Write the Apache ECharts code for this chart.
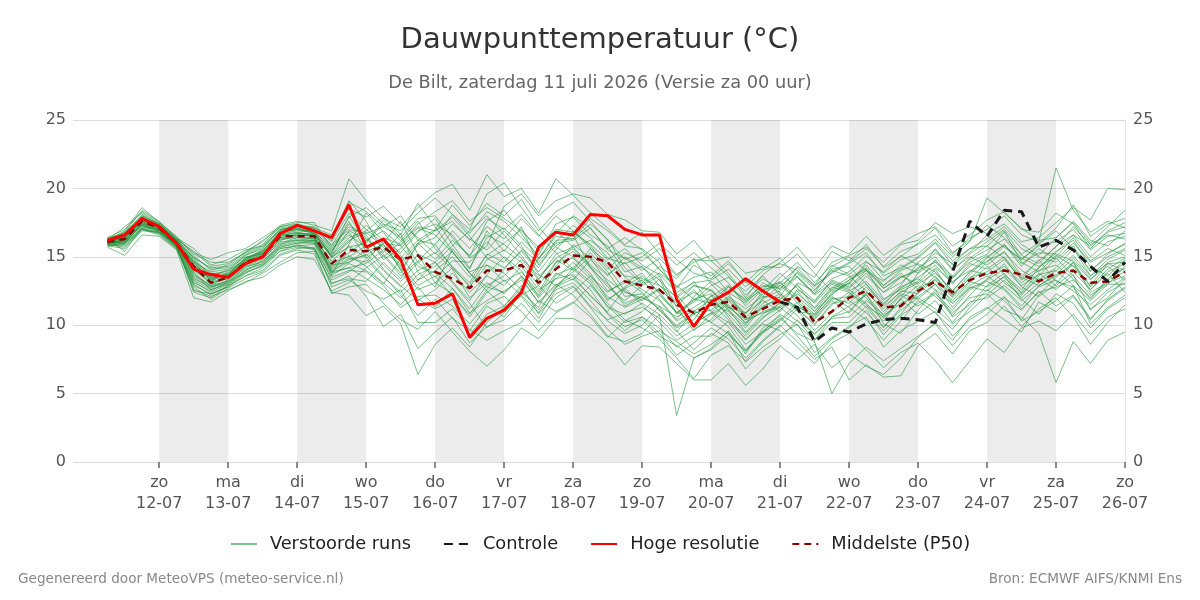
<!DOCTYPE html>
<html>
<head>
<meta charset="utf-8">
<title>Dauwpunttemperatuur</title>
<script src="https://cdn.jsdelivr.net/npm/echarts@6.0.0/dist/echarts.min.js"></script>
<style>
  html, body { margin: 0; padding: 0; background: #ffffff; }
  #chart { width: 1200px; height: 600px; }
</style>
</head>
<body>
<div id="chart"></div>
<script>
// as-labels (dag 00 uur), 12-07 t/m 26-07
const dagNamen = ['zo', 'ma', 'di', 'wo', 'do', 'vr', 'za', 'zo', 'ma', 'di', 'wo', 'do', 'vr', 'za', 'zo']
const datums = ['12-07', '13-07', '14-07', '15-07', '16-07', '17-07', '18-07', '19-07', '20-07', '21-07', '22-07', '23-07', '24-07', '25-07', '26-07']
// grijze banden: van datums[k] tot datums[k+1]
const grijzeDagen = [0, 2, 4, 6, 8, 10, 12]

// waarden elke 6 uur vanaf za 11-07 06 uur (60 tijdstappen)
// opbouw per rij: 3 waarden 11-07, dan 4 per dag 12-07..25-07, dan 26-07 00 uur
const middelste = [16.1, 16.3, 17.6,
  17.1, 16.0, 14.3, 13.1,  13.5, 14.6, 15.0, 16.5,  16.5, 16.5, 14.5, 15.5,  15.4, 15.7, 14.8, 15.1,
  13.9, 13.4, 12.7, 14.0,  14.0, 14.4, 13.1, 14.1,  15.1, 15.0, 14.6, 13.2,  12.9, 12.6, 11.5, 10.9,
  11.5, 11.7, 10.6, 11.2,  11.8, 12.0, 10.2, 11.0,  12.0, 12.5, 11.3, 11.4,  12.5, 13.2, 12.4, 13.3,
  13.8, 14.0, 13.7, 13.2,  13.8, 14.0, 13.1, 13.2,  13.9]

// hoge resolutie loopt tot 21-07 00 uur
const hogeResolutie = [16.2, 16.6, 17.8,
  17.2, 16.0, 14.1, 13.7,  13.5, 14.5, 15.0, 16.7,  17.3, 16.9, 16.4, 18.8,  15.7, 16.3, 14.8, 11.5,
  11.6, 12.3, 9.1, 10.5,  11.1, 12.4, 15.7, 16.8,  16.6, 18.1, 18.0, 17.0,  16.6, 16.6, 11.9, 9.9,
  11.7, 12.4, 13.4, 12.5,  11.7]

// controle pas zichtbaar vanaf 21-07 00 uur
const controle = [null, null, null,
  null, null, null, null,  null, null, null, null,  null, null, null, null,  null, null, null, null,
  null, null, null, null,  null, null, null, null,  null, null, null, null,  null, null, null, null,
  null, null, null, null,  11.7, 11.3, 8.8, 9.8,  9.5, 10.1, 10.4, 10.5,  10.4, 10.2, 13.9, 17.6,
  16.5, 18.4, 18.3, 15.7,  16.2, 15.5, 14.3, 13.2,  14.6]

const verstoordeRuns = [
  [16.0,16.5,18.0, 17.4,16.3,14.9,13.6, 14.0,15.1,15.6,17.0, 17.2,17.0,15.8,17.9, 18.6,17.4,16.9,18.2, 19.3,18.1,17.0,19.6, 20.4,18.6,16.9,18.3, 19.0,17.6,16.2,14.8, 15.3,14.1,12.8,13.5, 13.9,12.4,11.6,12.8, 13.1,14.2,12.9,13.8, 14.5,15.3,13.6,14.2, 15.0,16.1,14.7,15.6, 16.3,17.2,15.9,15.1, 16.4,17.6,16.2,15.8, 16.9],
  [16.3,15.4,17.2, 16.9,15.8,12.4,12.0, 12.9,13.6,14.2,15.4, 15.9,15.6,13.0,13.6, 12.1,9.9,10.8,8.3, 9.5,10.6,8.7,9.9, 10.4,11.6,10.2,12.0, 12.8,11.3,9.7,8.6, 9.2,9.6,8.8,7.9, 8.6,9.5,7.3,8.4, 9.3,10.1,8.0,9.1, 9.9,10.6,8.4,9.6, 10.3,11.0,9.2,10.4, 11.2,12.1,10.3,11.0, 11.8,12.9,10.1,11.3, 12.2],
  [16.1,16.8,18.4, 17.6,16.4,15.6,14.4, 14.8,15.5,15.8,16.9, 17.4,16.9,16.4,19.1, 17.6,15.3,16.7,13.9, 12.8,15.6,14.1,16.9, 15.4,17.2,14.4,15.8, 16.6,14.2,13.0,11.6, 12.1,13.4,10.8,11.7, 12.6,11.2,9.5,10.8, 11.6,13.0,11.2,12.7, 13.5,14.1,11.9,12.6, 13.2,14.8,13.1,14.3, 15.1,13.7,12.6,14.2, 15.4,16.2,14.3,13.6, 14.8],
  [15.8,16.0,17.4, 16.8,15.9,13.8,12.6, 13.1,14.3,14.8,16.1, 16.2,16.1,14.1,14.9, 14.6,16.2,15.3,16.8, 17.8,15.9,14.2,16.4, 17.1,15.8,13.7,12.9, 13.6,12.1,11.0,12.7, 11.5,10.2,8.9,9.7, 10.4,11.9,10.8,12.5, 13.2,11.6,10.4,11.8, 10.9,12.3,10.1,9.4, 11.1,12.6,10.7,12.2, 13.4,14.5,12.8,12.1, 13.0,14.6,12.4,13.1, 13.6],
  [16.2,16.9,18.6, 17.5,16.5,15.1,14.0, 14.4,15.4,16.1,17.3, 17.6,17.3,16.9,20.7, 19.1,17.8,17.2,18.6, 19.7,20.3,18.4,21.0, 19.4,20.0,18.2,20.7, 19.5,18.2,17.1,15.9, 16.8,15.2,13.7,14.6, 15.1,13.8,12.2,13.4, 12.6,14.3,13.5,15.4, 14.7,15.9,14.2,15.0, 16.0,17.1,15.3,16.2, 17.3,16.4,15.2,16.0, 17.1,18.8,16.5,17.4, 17.8],
  [16.0,16.2,17.5, 17.0,15.7,12.8,11.9, 12.7,13.4,13.9,15.1, 15.5,15.2,12.4,12.2, 10.7,11.4,10.1,6.4, 8.6,9.8,8.4,10.2, 11.3,12.1,10.5,12.6, 13.1,11.8,10.3,9.4, 10.0,11.4,9.6,8.2, 9.4,8.7,6.8,8.1, 9.0,10.4,8.9,10.6, 11.4,12.2,10.7,11.6, 12.1,13.0,11.3,12.8, 12.5,13.6,11.9,10.8, 12.3,11.6,9.8,11.2, 12.0],
  [16.4,16.6,17.9, 17.2,16.1,14.4,13.3, 13.8,14.9,15.4,16.6, 16.9,16.8,14.9,16.1, 17.3,16.2,14.0,15.9, 16.4,18.1,16.7,18.3, 17.6,16.4,15.1,17.4, 17.9,16.6,15.8,13.9, 14.3,12.9,12.1,13.2, 11.4,12.8,11.7,13.1, 12.4,11.1,9.6,10.9, 12.2,13.6,12.4,13.1, 14.2,15.0,13.5,14.6, 15.2,16.8,14.6,13.9, 15.1,14.3,12.6,13.9, 14.5],
  [15.9,15.8,17.0, 16.6,15.6,13.2,12.4, 13.0,14.0,14.7,15.7, 16.0,16.2,13.8,14.2, 13.4,12.6,11.5,12.8, 11.3,12.7,10.9,11.8, 12.5,13.3,11.7,13.0, 12.2,10.8,9.2,8.8, 9.4,10.8,3.4,7.6, 8.3,9.6,7.9,9.8, 10.7,9.2,7.7,9.0, 9.8,11.1,9.3,10.7, 11.6,12.4,10.6,11.5, 12.9,13.8,12.3,13.4, 12.6,13.7,11.1,12.4, 13.1],
  [16.1,16.3,17.7, 17.3,16.2,14.6,13.9, 14.1,15.0,15.2,16.3, 16.7,16.6,15.2,18.0, 16.1,17.4,16.2,17.6, 15.6,14.3,13.1,15.2, 14.6,16.1,14.8,16.7, 18.0,17.1,15.6,16.4, 15.5,14.1,12.7,14.4, 13.6,14.7,13.1,14.3, 14.2,15.2,13.8,12.5, 13.1,14.4,12.9,13.8, 12.6,14.1,12.2,13.7, 14.9,15.9,14.3,15.6, 14.8,16.0,14.6,15.3, 15.9],
  [16.2,17.2,18.2, 17.4,16.3,15.3,14.8, 15.3,15.6,16.4,17.2, 17.5,17.5,15.6,16.8, 15.0,13.6,12.2,10.7, 11.9,10.5,9.6,11.4, 10.6,12.4,11.3,13.7, 14.2,15.3,13.9,12.1, 12.3,11.1,9.8,10.4, 12.2,10.6,8.9,10.2, 11.1,12.6,11.7,13.3, 12.8,14.0,13.2,14.4, 13.8,15.6,14.1,15.0, 14.4,15.4,13.6,14.7, 15.7,17.2,15.9,16.6, 16.3],
  [15.7,15.1,16.6, 16.5,15.5,12.0,11.7, 12.5,13.2,13.5,14.4, 15.0,14.8,12.5,13.1, 14.2,15.1,13.6,14.7, 15.9,14.2,12.9,14.8, 15.5,14.6,12.9,11.6, 12.4,13.6,12.1,11.3, 11.9,12.7,11.4,12.6, 11.0,10.2,8.6,9.5, 10.3,11.4,10.6,12.1, 11.3,10.4,8.9,10.3, 11.8,10.9,9.7,11.3, 12.6,11.8,10.4,12.2, 13.5,14.6,12.8,14.1, 14.9],
  [16.3,16.7,18.1, 17.3,16.2,14.8,13.4, 13.7,14.8,15.5,16.7, 17.1,16.8,15.7,17.2, 16.6,14.8,15.6,16.9, 17.4,16.6,14.9,15.8, 18.7,19.6,18.0,19.1, 19.6,19.3,18.1,17.7, 16.9,16.8,15.2,16.2, 14.7,13.6,12.0,13.7, 14.6,15.7,14.2,15.8, 15.2,16.5,15.1,16.0, 16.7,17.2,15.8,16.6, 17.7,18.3,17.0,16.8, 18.2,17.4,15.6,16.9, 17.5],
  [16.0,16.1,17.3, 17.0,15.9,13.5,12.7, 13.3,14.4,14.9,16.0, 16.4,16.4,14.6,15.0, 15.8,14.1,12.9,11.8, 12.6,13.8,12.4,13.6, 12.9,14.3,12.6,13.4, 13.7,12.6,10.8,9.6, 10.6,9.4,7.8,8.7, 9.8,9.0,7.6,8.9, 10.0,8.8,7.5,8.4, 6.0,7.1,6.2,6.3, 8.5,9.4,7.9,9.6, 10.2,11.4,9.9,11.2, 12.0,10.6,8.6,10.2, 11.5],
  [16.2,16.4,17.8, 17.1,16.0,14.1,13.0, 13.6,14.7,15.2,16.4, 16.6,16.5,13.9,14.8, 15.1,16.0,15.8,14.3, 13.8,12.7,11.2,12.9, 13.6,14.8,13.3,15.2, 15.7,14.4,13.3,12.4, 12.0,11.4,10.6,11.3, 12.1,12.9,11.8,12.6, 12.9,13.8,12.6,13.9, 14.6,15.6,14.3,15.4, 15.9,16.6,15.2,16.4, 17.0,18.0,16.6,16.1, 21.5,18.4,16.8,17.6, 17.1],
  [16.1,16.0,17.1, 16.8,15.8,13.0,12.2, 12.9,13.9,14.3,15.6, 15.8,15.9,13.3,13.9, 14.8,13.5,12.4,13.7, 14.3,15.4,13.8,12.5, 11.4,12.9,10.8,12.3, 12.9,11.4,10.4,10.9, 11.3,10.5,9.2,10.1, 10.9,9.9,8.2,9.6, 10.5,9.4,8.8,5.0, 7.2,8.4,7.4,8.3, 9.2,10.1,8.5,9.9, 10.8,12.0,11.1,12.5, 11.4,12.2,10.5,11.8, 12.7],
  [16.4,17.0,18.3, 17.5,16.4,15.2,14.6, 14.6,15.3,16.2,17.1, 17.3,17.1,16.6,18.5, 17.9,18.7,17.4,16.4, 15.2,16.9,15.6,17.2, 16.3,17.8,16.5,18.0, 16.9,15.6,14.1,15.3, 14.7,15.6,14.4,15.3, 14.2,13.1,11.4,12.6, 13.8,12.7,11.6,13.0, 12.5,13.2,11.8,12.9, 14.6,15.5,14.0,15.2, 16.1,17.0,15.6,15.0, 14.6,15.8,13.9,15.2, 16.0],
  [15.9,15.7,17.0, 16.7,15.7,12.6,12.1, 12.6,13.1,13.8,14.6, 15.3,15.4,12.3,12.8, 13.0,11.6,10.4,9.7, 11.0,9.5,8.1,7.0, 8.2,9.8,9.0,10.5, 10.5,9.8,8.7,7.1, 8.5,8.4,7.2,6.0, 6.0,7.2,5.6,6.8, 8.5,7.5,8.6,6.9, 7.9,7.0,6.4,7.6, 9.1,10.2,8.9,10.6, 11.3,10.4,9.5,11.7, 11.0,12.1,10.4,11.9, 12.8],
  [16.2,16.5,17.6, 17.2,16.1,14.0,13.2, 13.9,14.9,15.3,16.5, 16.8,16.6,14.3,15.3, 16.2,16.9,15.8,17.1, 16.6,15.3,13.9,14.4, 13.2,13.9,12.4,14.6, 15.4,14.2,12.5,13.1, 13.8,12.3,11.0,10.1, 10.9,12.0,10.9,11.8, 11.0,12.5,11.0,12.2, 13.3,14.2,12.7,13.6, 13.0,13.8,12.5,13.9, 14.7,15.3,14.0,13.3, 14.2,15.6,13.6,14.5, 14.0],
  [16.0,16.2,17.5, 17.0,16.0,14.2,13.1, 13.4,14.5,15.1,16.3, 16.4,16.3,14.7,15.8, 14.9,15.9,14.6,16.0, 14.8,16.2,15.1,16.6, 15.9,14.9,13.6,14.8, 14.0,15.6,14.6,13.6, 13.4,12.9,11.7,12.4, 11.8,12.8,11.9,12.9, 12.7,13.6,12.3,13.4, 13.9,15.1,13.8,14.8, 15.2,16.3,15.0,16.1, 19.3,18.2,17.1,16.2, 16.4,17.5,16.0,17.2, 18.4],
  [16.3,16.4,17.7, 17.2,16.1,14.3,13.5, 13.6,14.6,15.1,16.6, 16.7,16.7,15.0,16.2, 16.8,15.7,14.4,12.9, 13.6,12.1,10.8,12.6, 14.1,15.5,14.2,16.2, 16.3,17.4,16.3,14.2, 13.0,13.8,12.9,11.9, 12.3,11.1,10.0,11.6, 12.3,11.2,10.1,11.6, 11.8,10.9,9.6,10.8, 12.4,13.6,12.1,13.5, 13.9,14.8,13.4,14.8, 13.2,12.8,11.2,12.0, 13.4],
  [16.1,16.6,17.8, 17.2,16.0,14.0,13.6, 13.5,14.4,15.0,16.6, 17.0,16.8,15.3,17.6, 15.4,15.9,14.1,11.9, 11.2,11.9,9.3,10.8, 11.4,12.7,14.9,16.5, 16.3,17.8,16.9,15.8, 15.6,14.6,12.2,10.8, 11.6,11.0,9.8,11.4, 11.9,12.9,11.8,13.2, 12.7,13.8,12.4,13.5, 14.0,14.6,13.4,14.8, 15.5,16.3,14.9,14.3, 15.0,16.4,14.7,15.6, 15.1],
  [15.8,15.6,16.9, 16.8,15.7,13.1,12.5, 13.2,13.8,14.4,15.4, 15.7,15.6,13.5,14.0, 13.9,12.9,11.3,12.1, 12.2,11.4,10.1,11.6, 12.1,11.0,9.6,10.9, 11.6,12.9,11.4,10.2, 10.6,9.8,8.4,9.2, 9.2,10.3,9.0,10.1, 9.6,8.4,7.2,8.7, 9.4,8.2,6.9,8.0, 8.7,7.4,5.8,7.4, 9.0,8.0,9.8,10.3, 9.6,10.8,9.3,10.6, 11.2],
  [16.2,16.3,17.6, 17.1,16.1,14.5,13.7, 14.0,14.8,15.3,16.8, 17.0,16.9,15.5,16.6, 15.7,14.4,13.2,14.6, 15.3,14.1,12.0,13.1, 12.3,13.6,12.0,13.4, 14.6,13.4,11.8,12.8, 13.6,12.4,10.9,11.8, 12.9,13.5,12.5,13.6, 12.2,11.0,10.8,12.3, 13.1,12.0,10.5,11.9, 12.9,12.1,10.9,12.0, 12.3,11.1,10.6,9.4, 5.8,8.8,7.2,8.9, 9.5],
  [16.0,16.2,17.4, 17.0,15.9,13.7,12.9, 13.2,14.2,14.7,15.9, 16.3,16.2,14.0,14.6, 15.5,16.4,15.9,17.4, 18.3,19.1,17.6,18.6, 17.8,16.9,15.7,17.0, 16.8,15.9,14.8,15.6, 14.4,13.7,12.4,13.1, 13.3,14.1,12.8,14.0, 14.5,14.0,12.9,14.6, 15.1,15.7,14.6,15.9, 16.2,17.5,16.7,17.2, 16.7,17.4,16.1,16.4, 17.5,18.6,17.7,20.0, 19.9],
  [16.1,16.4,17.7, 17.3,16.2,14.7,13.8, 13.8,14.8,15.4,16.8, 17.1,16.7,15.4,17.4, 16.4,15.0,16.1,17.2, 16.9,17.6,16.2,17.8, 17.0,18.1,16.6,15.3, 14.1,13.0,11.6,10.4, 9.8,9.0,7.6,6.1, 7.8,8.5,7.4,8.8, 9.9,11.2,10.0,11.5, 12.4,11.5,9.9,11.1, 12.0,11.2,10.1,11.0, 12.2,13.3,12.0,13.1, 14.0,15.1,13.6,14.8, 15.5],
  [16.3,16.8,18.0, 17.4,16.3,14.9,14.2, 14.3,15.2,15.8,17.0, 17.2,17.2,16.1,18.2, 17.0,16.0,17.6,15.2, 14.6,13.2,11.8,13.7, 15.0,14.0,12.1,13.8, 13.3,14.8,13.6,15.0, 14.2,13.3,12.0,12.9, 12.5,11.4,10.2,11.0, 11.4,13.1,12.5,14.1, 14.3,13.0,11.6,12.7, 13.5,14.4,13.0,14.5, 14.1,15.0,13.5,12.9, 13.7,14.9,13.4,14.3, 13.3],
  [15.9,16.0,17.2, 16.9,15.8,13.4,12.8, 13.1,14.1,14.5,15.8, 16.1,16.0,13.6,14.5, 14.0,13.1,12.0,13.3, 14.0,15.0,13.5,15.1, 16.0,17.0,15.4,16.9, 15.7,16.2,15.3,13.5, 12.6,11.8,10.3,11.1, 10.2,11.3,10.4,10.9, 11.3,10.3,9.4,10.5, 10.6,11.8,10.8,12.2, 11.4,12.3,11.1,12.6, 13.2,12.6,11.2,12.4, 12.8,13.3,12.0,13.4, 14.2],
  [16.2,16.7,17.9, 17.3,16.2,15.0,14.1, 14.2,15.1,15.7,16.9, 17.3,17.0,16.2,19.0, 18.3,17.2,16.4,17.8, 18.0,16.4,15.0,17.6, 18.4,16.7,14.9,16.1, 17.3,16.4,14.9,14.5, 15.0,16.0,14.8,13.8, 13.4,14.5,13.2,12.1, 13.5,14.6,13.1,14.4, 13.7,14.7,13.3,14.1, 14.9,16.0,14.4,15.3, 16.6,15.7,14.8,15.8, 16.1,17.0,15.5,16.5, 16.7],
  [16.0,15.9,17.1, 16.7,15.6,12.9,12.3, 12.8,13.6,14.0,15.2, 15.6,15.7,12.8,13.3, 12.5,11.9,12.6,10.2, 10.2,11.2,9.7,8.9, 9.6,10.2,11.8,11.0, 11.7,10.6,9.1,10.3, 11.0,12.2,10.9,11.9, 11.6,10.4,9.2,10.5, 11.7,10.7,9.3,10.6, 11.0,12.4,11.2,12.5, 12.3,13.4,12.0,13.2, 12.8,13.5,12.4,13.8, 12.9,13.9,12.6,13.8, 12.4],
  [16.1,16.5,17.8, 17.2,16.0,14.6,13.3, 13.6,14.7,15.3,16.4, 16.6,16.5,15.0,15.7, 16.0,17.7,16.4,14.6, 13.5,14.7,14.6,16.1, 14.9,13.6,12.2,14.3, 15.9,14.9,13.1,11.4, 12.1,11.2,10.0,10.9, 11.1,12.1,11.2,12.1, 12.0,11.4,10.5,11.9, 12.1,13.0,11.4,12.4, 13.1,14.2,13.2,14.0, 13.7,14.3,13.1,14.0, 14.4,13.4,11.9,13.3, 13.9],
  [16.0,16.3,17.6, 17.1,16.1,14.6,13.2, 13.4,14.6,15.2,16.5, 16.8,16.4,13.7,15.9, 18.2,16.8,15.1,13.3, 14.6,15.8,16.9,18.0, 16.6,15.1,13.4,14.9, 15.6,14.3,12.8,11.8, 12.9,13.6,11.3,9.6, 10.8,11.5,10.1,11.9, 12.9,11.9,10.8,12.4, 13.0,14.6,13.9,15.1, 14.4,13.5,12.2,13.4, 14.6,15.8,14.8,15.9, 16.9,15.6,14.0,15.0, 15.6],
  [16.2,16.1,17.3, 16.9,15.9,13.6,12.9, 13.5,14.5,14.9,16.2, 16.5,16.3,14.2,15.1, 14.3,13.0,14.9,16.2, 17.0,18.8,17.3,18.9, 18.0,19.2,17.2,15.7, 15.0,13.8,11.9,12.7, 13.3,11.9,10.4,12.1, 13.2,12.3,10.5,12.0, 12.5,13.5,12.2,13.1, 12.6,11.6,10.3,12.0, 13.8,14.7,13.6,14.9, 15.8,14.9,13.3,14.2, 15.3,16.6,15.8,16.8, 17.2],
  [16.1,16.4,17.5, 17.1,16.0,14.4,13.5, 13.7,14.7,15.0,16.2, 16.6,16.6,15.1,16.4, 16.9,17.9,16.6,18.9, 17.2,15.4,13.8,12.8, 12.4,13.5,11.6,12.9, 13.9,15.0,13.7,14.6, 13.1,14.3,13.4,14.9, 13.0,11.8,10.4,11.3, 12.1,13.9,12.8,14.0, 13.6,12.5,11.0,12.3, 11.9,13.0,11.8,13.1, 14.3,13.1,12.2,13.6, 14.9,13.6,12.2,13.0, 14.3],
  [15.8,15.9,17.0, 16.8,15.8,12.5,12.3, 12.8,13.8,14.4,15.6, 15.8,15.5,13.1,13.4, 13.2,14.6,13.4,15.2, 13.1,12.3,10.6,12.4, 13.3,12.2,10.9,12.8, 13.4,12.2,10.9,9.9, 10.4,9.2,8.5,7.6, 8.2,9.3,8.1,9.5, 10.8,10.0,8.9,10.2, 10.2,11.4,10.6,11.9, 10.8,11.8,10.2,11.7, 12.0,12.9,11.8,12.8, 13.3,12.5,11.5,12.6, 13.5],
  [16.3,16.6,17.9, 17.3,16.3,15.4,14.3, 14.5,15.3,15.9,17.2, 17.4,17.1,15.9,17.0, 16.7,17.2,18.0,16.2, 15.9,17.4,16.3,15.5, 16.9,15.6,14.6,16.0, 16.2,17.1,15.5,14.9, 14.0,14.9,13.6,14.8, 14.7,15.0,13.8,14.1, 14.9,13.5,12.3,14.3, 15.0,14.0,12.7,13.5, 14.1,15.3,14.5,15.6, 15.8,16.9,15.1,14.5, 15.8,16.6,15.0,16.1, 16.5],
  [15.9,16.1,17.4, 17.0,15.9,13.9,12.8, 13.3,14.3,14.6,15.9, 16.2,16.2,14.4,14.6, 15.2,14.0,12.8,14.0, 14.6,13.1,11.6,9.8, 10.9,12.2,12.9,14.6, 14.9,13.6,12.4,13.3, 12.4,11.1,9.9,10.8, 10.2,9.4,8.1,9.4, 10.4,11.7,10.7,12.0, 11.6,12.8,11.5,12.8, 13.4,12.6,11.6,12.7, 13.3,14.1,12.9,13.7, 14.0,12.9,11.8,13.0, 13.0],
  [16.2,16.5,17.7, 17.2,16.1,14.2,13.4, 13.7,14.9,15.5,16.8, 17.0,16.7,15.1,16.9, 16.3,15.2,13.8,16.0, 16.9,17.9,16.5,14.9, 14.2,15.4,13.9,15.5, 16.9,15.8,14.3,12.5, 11.8,12.6,11.6,12.9, 12.6,11.3,10.9,12.3, 13.1,12.1,11.0,12.6, 13.3,14.0,12.9,14.0, 14.5,13.9,12.5,13.9, 15.0,15.9,14.5,15.3, 15.2,14.7,13.3,14.6, 15.0],
  [16.0,16.1,17.3, 16.9,15.8,13.3,12.6, 13.0,14.0,14.5,15.7, 16.0,16.0,13.9,14.2, 14.5,15.5,14.3,12.6, 13.1,14.2,12.8,14.4, 13.8,12.6,11.1,12.7, 14.2,13.2,11.3,10.8, 11.6,10.8,9.5,11.0, 11.9,10.8,9.4,10.6, 11.3,12.3,11.3,12.8, 12.4,11.3,9.8,11.3, 12.7,13.3,11.6,12.9, 13.6,12.7,11.4,12.9, 13.6,14.4,12.9,14.5, 14.6]
]

// tijd in uren na za 11-07 00 uur; eerste punt 06 uur, stap 6 uur
const uur = (i) => 6 + 6 * i
const toPoints = (arr) => arr.map((v, i) => [uur(i), v])

const chartInstance = echarts.init(document.getElementById('chart'))

const fontFam = 'DejaVu Sans'
const runKleur = 'rgba(30,145,55,0.58)'

const series = []
verstoordeRuns.forEach((run, k) => {
  series.push({
    name: 'Verstoorde runs',
    type: 'line',
    data: toPoints(run),
    symbol: 'none',
    silent: true,
    lineStyle: { color: runKleur, width: 1 },
    itemStyle: { color: '#7cc488' },
    z: 2,
    // de grijze dag-banden hangen aan de eerste run
    markArea: k === 0 ? {
      silent: true,
      itemStyle: { color: 'rgba(0,0,0,0.075)' },
      data: grijzeDagen.map(d => [{ xAxis: 24 * (d + 1) }, { xAxis: 24 * (d + 2) }])
    } : undefined
  })
})
series.push({
  name: 'Middelste (P50)',
  type: 'line',
  data: toPoints(middelste),
  symbol: 'none',
  lineStyle: { color: '#8b0000', width: 2.5, type: [7, 5] },
  itemStyle: { color: '#8b0000' },
  z: 4
})
series.push({
  name: 'Controle',
  type: 'line',
  data: toPoints(controle),
  symbol: 'none',
  lineStyle: { color: '#1a1a1a', width: 3, type: [9, 6] },
  itemStyle: { color: '#1a1a1a' },
  z: 5
})
series.push({
  name: 'Hoge resolutie',
  type: 'line',
  data: toPoints(hogeResolutie),
  symbol: 'none',
  lineStyle: { color: '#ff0000', width: 3 },
  itemStyle: { color: '#ff0000' },
  z: 6
})

const tickWaarden = datums.map((d, k) => 24 * (k + 1))

const yAs = (pos) => ({
  type: 'value',
  position: pos,
  min: 0,
  max: 25,
  interval: 5,
  axisLine: { show: pos === 'right', lineStyle: { color: '#e3e3e3', width: 1 } },
  axisTick: { show: false },
  axisLabel: { color: '#555', fontSize: 16, fontFamily: fontFam, margin: pos === 'right' ? 8 : 7 },
  splitLine: { show: pos === 'left', lineStyle: { color: '#dcdcdc', width: 1 } }
})

const option = {
  backgroundColor: '#ffffff',
  animation: false,
  title: [
    {
      text: 'Dauwpunttemperatuur (°C)',
      left: 'center',
      top: 21,
      textStyle: { fontFamily: fontFam, fontSize: 29, fontWeight: 'normal', color: '#333' }
    },
    {
      text: 'De Bilt, zaterdag 11 juli 2026 (Versie za 00 uur)',
      left: 'center',
      top: 69,
      textStyle: { fontFamily: fontFam, fontSize: 17.8, fontWeight: 'normal', color: '#666' }
    }
  ],
  grid: { left: 73, right: 75, top: 120, bottom: 138, containLabel: false },
  legend: {
    top: 530,
    left: 'center',
    itemWidth: 26,
    itemHeight: 12,
    itemGap: 32,
    // geen bolletje in het legenda-icoon, alleen de lijn
    itemStyle: { opacity: 0 },
    textStyle: { fontFamily: fontFam, fontSize: 17.8, color: '#222', padding: [0, 0, 0, 8] },
    data: ['Verstoorde runs', 'Controle', 'Hoge resolutie', 'Middelste (P50)']
  },
  xAxis: {
    type: 'value',
    min: -6,
    max: 360,
    axisLine: { show: false },
    axisTick: {
      show: true,
      customValues: tickWaarden,
      length: 6,
      lineStyle: { color: '#666', width: 1.5 }
    },
    axisLabel: {
      customValues: tickWaarden,
      color: '#555',
      fontSize: 16,
      fontFamily: fontFam,
      lineHeight: 21,
      margin: 10,
      formatter: (val) => {
        const k = Math.round(val / 24) - 1
        return dagNamen[k] + '\n' + datums[k]
      }
    },
    splitLine: { show: false }
  },
  yAxis: [yAs('left'), yAs('right')],
  graphic: [
    {
      type: 'text', left: 18, top: 572,
      style: { text: 'Gegenereerd door MeteoVPS (meteo-service.nl)', fill: '#888', fontSize: 13.6, fontFamily: fontFam }
    },
    {
      type: 'text', right: 18, top: 572,
      style: { text: 'Bron: ECMWF AIFS/KNMI Ens', fill: '#888', fontSize: 13.6, fontFamily: fontFam }
    }
  ],
  series: series
}

chartInstance.setOption(option)
</script>
</body>
</html>
